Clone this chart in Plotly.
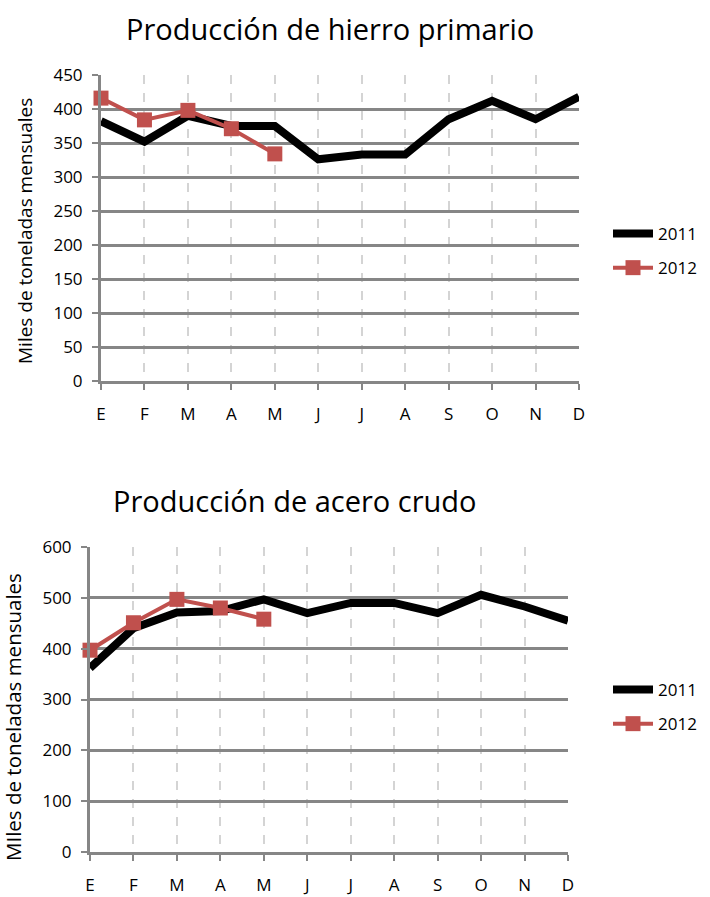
import plotly.graph_objects as go

months = ["E", "F", "M", "A", "M", "J", "J", "A", "S", "O", "N", "D"]
hierro_2011 = [382, 352, 390, 375, 375, 326, 333, 333, 385, 412, 385, 418]
hierro_2012 = [416, 384, 398, 371, 334]
acero_2011 = [362, 440, 471, 474, 497, 470, 490, 490, 470, 506, 483, 455]
acero_2012 = [397, 451, 497, 480, 458]

FONT = "Open Sans, sans-serif"
BLACK = "#000000"
RED = "#c0504d"
W, H = 710, 897


def px(x):
    return x / W


def py(y):
    return 1 - y / H


xs = list(range(12))
fig = go.Figure()

fig.add_trace(go.Scatter(x=xs, y=hierro_2011, mode="lines", name="2011", legendgroup="a",
                         line=dict(color=BLACK, width=8), xaxis="x", yaxis="y",
                         legend="legend", cliponaxis=False))
fig.add_trace(go.Scatter(x=xs[:len(hierro_2012)], y=hierro_2012, mode="lines+markers", name="2012",
                         legendgroup="b",
                         line=dict(color=RED, width=4),
                         marker=dict(symbol="square", size=15, color=RED),
                         xaxis="x", yaxis="y", legend="legend", cliponaxis=False))
fig.add_trace(go.Scatter(x=xs, y=acero_2011, mode="lines", name="2011", legendgroup="c",
                         line=dict(color=BLACK, width=8), xaxis="x2", yaxis="y2",
                         legend="legend2", cliponaxis=False))
fig.add_trace(go.Scatter(x=xs[:len(acero_2012)], y=acero_2012, mode="lines+markers", name="2012",
                         legendgroup="d",
                         line=dict(color=RED, width=4),
                         marker=dict(symbol="square", size=15, color=RED),
                         xaxis="x2", yaxis="y2", legend="legend2", cliponaxis=False))


def xaxis_cfg(domain, anchor):
    return dict(domain=domain, anchor=anchor, range=[0, 11], tickvals=xs, ticktext=months,
                showgrid=True, gridcolor="#d4d4d4", gridwidth=2, griddash="dash",
                showline=True, linecolor="#868686", linewidth=3,
                ticks="outside", ticklen=6, tickwidth=2, tickcolor="#868686",
                ticklabelstandoff=10, automargin=False,
                tickfont=dict(family=FONT, size=17, color="#000"), zeroline=False)


def yaxis_cfg(domain, anchor, rng, dtick):
    return dict(domain=domain, anchor=anchor, range=rng, dtick=dtick,
                showgrid=True, gridcolor="#868686", gridwidth=3,
                showline=True, linecolor="#868686", linewidth=3,
                ticks="outside", ticklen=6, tickwidth=2, tickcolor="#868686",
                ticklabelstandoff=6, automargin=False,
                tickfont=dict(family=FONT, size=17, color="#000"), zeroline=False)


fig.update_layout(
    width=W, height=H,
    margin=dict(l=0, r=0, t=0, b=0, autoexpand=False),
    paper_bgcolor="white", plot_bgcolor="white",
    font=dict(family=FONT, color="#000"),
    hovermode=False,
    xaxis=xaxis_cfg([px(101), px(579)], "y"),
    yaxis=yaxis_cfg([py(381), py(75)], "x", [0, 450], 50),
    xaxis2=xaxis_cfg([px(90), px(568)], "y2"),
    yaxis2=yaxis_cfg([py(852), py(547)], "x2", [0, 600], 100),
    legend=dict(x=px(608), y=py(251), xanchor="left", yanchor="middle",
                font=dict(family=FONT, size=17), tracegroupgap=9, itemwidth=40,
                bgcolor="rgba(0,0,0,0)"),
    legend2=dict(x=px(608), y=py(707), xanchor="left", yanchor="middle",
                 font=dict(family=FONT, size=17), tracegroupgap=9, itemwidth=40,
                 bgcolor="rgba(0,0,0,0)"),
    annotations=[
        dict(text="Producción de hierro primario", x=px(330), y=py(28), xref="paper", yref="paper",
             showarrow=False, font=dict(family=FONT, size=29), xanchor="center", yanchor="middle"),
        dict(text="Producción de acero crudo", x=px(295), y=py(500), xref="paper", yref="paper",
             showarrow=False, font=dict(family=FONT, size=29), xanchor="center", yanchor="middle"),
        dict(text="Miles de toneladas mensuales", x=px(25), y=py(231), xref="paper", yref="paper",
             showarrow=False, textangle=-90, font=dict(family=FONT, size=19),
             xanchor="center", yanchor="middle"),
        dict(text="MIles de toneladas mensuales", x=px(13), y=py(717), xref="paper", yref="paper",
             showarrow=False, textangle=-90, font=dict(family=FONT, size=20.5),
             xanchor="center", yanchor="middle"),
    ],
)

fig.write_html("out.html", config={"displayModeBar": False},
               post_script="document.body.style.margin='0';document.body.style.overflow='hidden';")
